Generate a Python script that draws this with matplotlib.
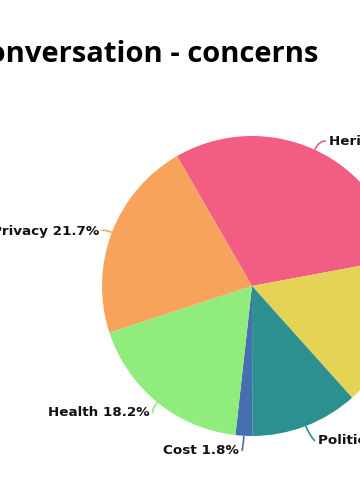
import matplotlib
matplotlib.use("Agg")
import matplotlib.pyplot as plt
import numpy as np
from matplotlib.path import Path
from matplotlib.patches import PathPatch

# Data (clockwise from start)
categories = ["Heritage", "Other", "Politics", "Cost", "Health", "Privacy"]
values = [30.4, 16.3, 11.6, 1.8, 18.2, 21.7]
colors = ["#f25d84", "#e4d354", "#2b908f", "#4470b0", "#90ed7d", "#f7a35c"]
title = "Conversation - concerns"

W, H = 360, 500
fig = plt.figure(figsize=(W / 100, H / 100), dpi=100)
ax = fig.add_axes([0, 0, 1, 1])

cx, cy, R = 252, H - 286, 150
wedges, _ = ax.pie(values, colors=colors, startangle=120, counterclock=False,
                   center=(cx, cy), radius=R, wedgeprops=dict(linewidth=0))
ax.set_xlim(0, W)
ax.set_ylim(0, H)
ax.set_aspect("equal")
ax.axis("off")

# label anchor positions (screen px, y down) and alignment
label_pos = {
    "Heritage": (329, 141, "left"),
    "Other": (420, 335, "left"),
    "Politics": (318, 441, "left"),
    "Cost": (239, 451, "right"),
    "Health": (150, 413, "right"),
    "Privacy": (99, 231, "right"),
}

for w, cat, val, col in zip(wedges, categories, values, colors):
    mid = np.deg2rad((w.theta1 + w.theta2) / 2)
    ex, ey = cx + R * np.cos(mid), cy + R * np.sin(mid)
    lx, ly_s, ha = label_pos[cat]
    ly = H - ly_s
    ax.text(lx, ly, f"{cat} {val}%", ha=ha, va="center", fontsize=9.7,
            fontweight="bold", color="#111111", family="DejaVu Sans")
    tx = lx + (-3 if ha == "left" else 3)
    ox, oy = ex + 10 * np.cos(mid), ey + 10 * np.sin(mid)
    path = Path([(ex, ey), (ox, oy), (tx, ly)], [Path.MOVETO, Path.CURVE3, Path.CURVE3])
    ax.add_patch(PathPatch(path, fill=False, edgecolor=col, linewidth=1.2))

ax.text(318, H - 62, title, ha="right", va="baseline", fontsize=21,
        fontweight="bold", color="#000000", family="Open Sans")

fig.savefig("out.png", dpi=100)
